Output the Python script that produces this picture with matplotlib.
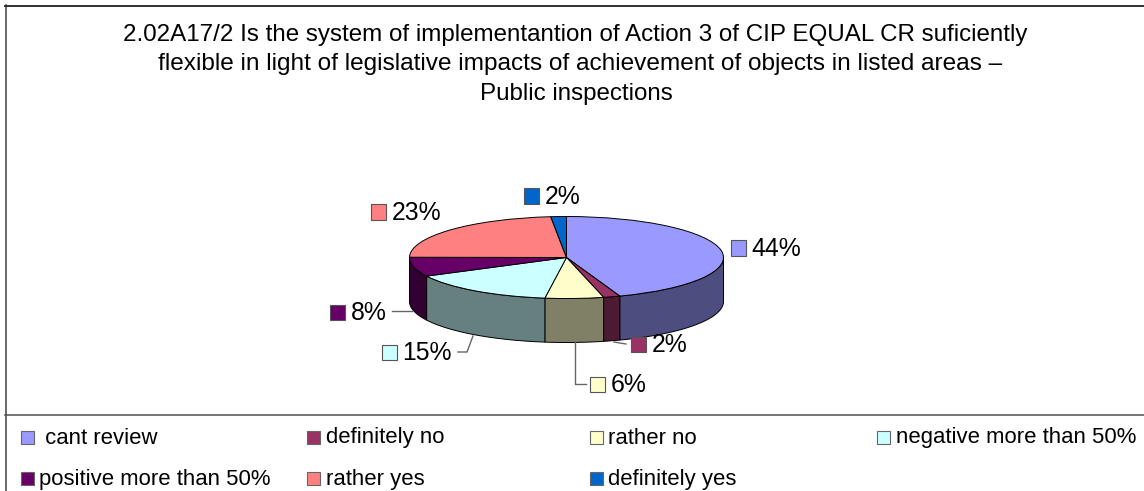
import numpy as np
import matplotlib
matplotlib.use("Agg")
import matplotlib.pyplot as plt
from matplotlib.patches import Rectangle, Polygon
from matplotlib.lines import Line2D

plt.rcParams['font.family'] = ['Liberation Sans', 'DejaVu Sans']

categories = [" cant review", "definitely no", "rather no", "negative more than 50%",
              "positive more than 50%", "rather yes", "definitely yes"]
values = [44.49, 1.71, 6.0, 15.3, 7.6, 23.3, 1.6]
colors = ["#9999FF", "#993366", "#FFFFCC", "#CCFFFF", "#660066", "#FF8080", "#0066CC"]
title_lines = ["2.02A17/2 Is the system of implementantion of Action 3 of CIP EQUAL CR suficiently",
               "flexible in light of legislative impacts of achievement of objects in listed areas –",
               "Public inspections"]

W, H = 1144, 491
fig = plt.figure(figsize=(W / 100, H / 100), dpi=100, facecolor="white")

def fx(x): return x / W
def fy(y): return 1 - y / H

# frame
for xs, ys, col, lw in [((5.5, 5.5), (5, 491), "#404040", 1.1),
                        ((5, 1144), (5.5, 5.5), "#202020", 1.3),
                        ((5, 1144), (414.5, 414.5), "#505050", 1.1)]:
    fig.add_artist(Line2D([fx(v) for v in xs], [fy(v) for v in ys], color=col, lw=lw))

for line, tx, ty, fs in zip(title_lines, (575.5, 580.5, 576), (35, 64, 94), (17.4, 17.55, 17.4)):
    fig.text(fx(tx), fy(ty), line, ha="center", va="center", fontsize=fs, color="black")

# pie geometry in pixels
cx, cy, rx, ry, depth = 566.5, 257.5, 157, 41, 44
ax = fig.add_axes([fx(cx - rx), fy(cy + ry + depth), 2 * rx / W, (2 * ry + depth) / H])
d = depth / ry
wedges, _ = ax.pie(values, colors=colors, startangle=90, counterclock=False, radius=1,
                   wedgeprops=dict(edgecolor="black", linewidth=0.7))
ax.set_aspect("auto")
ax.set_xlim(-1, 1)
ax.set_ylim(-1 - d, 1)
for w in wedges:
    w.set_zorder(5)
    w.set_clip_on(False)

# front side wall of each slice
edges = np.concatenate([[0], np.cumsum(values)]) / sum(values) * 2 * np.pi
for a0, a1, c in zip(edges[:-1], edges[1:], colors):
    lo, hi = max(a0, np.pi / 2), min(a1, 3 * np.pi / 2)
    if hi <= lo:
        continue
    t = np.linspace(lo, hi, 80)
    x, y = np.sin(t), np.cos(t)
    pts = np.r_[np.c_[x, y], np.c_[x[::-1], y[::-1] - d]]
    rgb = np.array(matplotlib.colors.to_rgb(c)) * 0.5
    ax.add_patch(Polygon(pts, closed=True, facecolor=rgb, edgecolor="black", lw=0.7, zorder=3, clip_on=False))

# data labels
label_pos = [(731, 248), (631, 344), (590, 384), (382, 352), (330, 312), (371, 212), (524, 196)]
for v, c, (px, py) in zip(values, colors, label_pos):
    fig.add_artist(Rectangle((fx(px), fy(py + 7.5)), 15 / W, 15 / H, transform=fig.transFigure,
                             facecolor=c, edgecolor="#555555", lw=0.8))
    fig.text(fx(px + 20.5), fy(py + 1), f"{v:.0f}%", ha="left", va="center", fontsize=17.8, color="black")

# leader lines
leaders = [[(458, 352), (467, 352), (473, 336)],
           [(392, 311), (412, 311)],
           [(575, 342), (575, 384), (586, 384)],
           [(614, 342), (626, 344)]]
for seg in leaders:
    fig.add_artist(Line2D([fx(p[0]) for p in seg], [fy(p[1]) for p in seg], color="#666666", lw=1.0))

# legend
leg_pos = [(21, 437), (307, 437), (590, 437), (877, 437), (21, 478), (307, 478), (590, 478)]
for name, c, (px, py) in zip(categories, colors, leg_pos):
    fig.add_artist(Rectangle((fx(px), fy(py + 6.5)), 13 / W, 13 / H, transform=fig.transFigure,
                             facecolor=c, edgecolor="#666666", lw=0.8))
    fig.text(fx(px + 18.5), fy(py + 1), name, ha="left", va="center", fontsize=15.9, color="black")

fig.savefig("out.png", dpi=100)
